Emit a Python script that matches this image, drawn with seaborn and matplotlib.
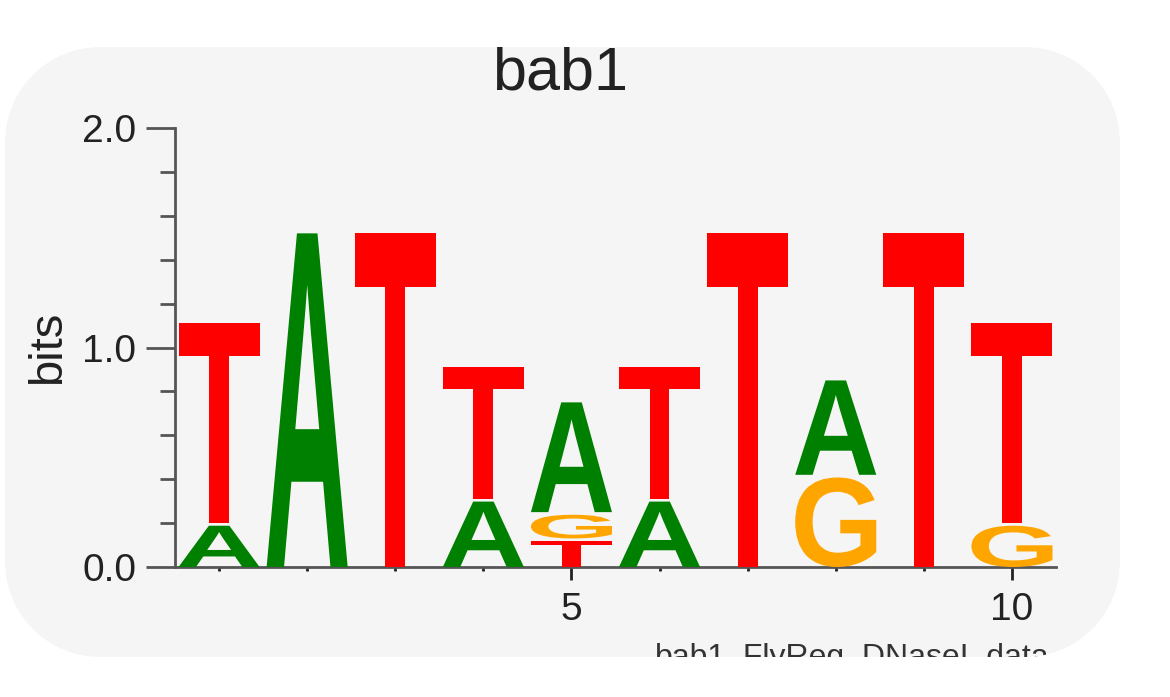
import numpy as np
import matplotlib
matplotlib.use("Agg")
import matplotlib.pyplot as plt
import seaborn as sns
from matplotlib.textpath import TextPath
from matplotlib.font_manager import FontProperties
from matplotlib.patches import PathPatch
from matplotlib.path import Path
from matplotlib.transforms import Affine2D
from matplotlib.ticker import MultipleLocator, FixedLocator

# ---------------- data ----------------
positions = [1, 2, 3, 4, 5, 6, 7, 8, 9, 10]
height_A = [0.20, 1.52, 0.00, 0.31, 0.50, 0.31, 0.00, 0.43, 0.00, 0.00]
height_C = [0.00, 0.00, 0.00, 0.00, 0.00, 0.00, 0.00, 0.00, 0.00, 0.00]
height_G = [0.00, 0.00, 0.00, 0.00, 0.12, 0.00, 0.00, 0.42, 0.00, 0.20]
height_T = [0.91, 0.00, 1.52, 0.60, 0.13, 0.60, 1.52, 0.00, 1.52, 0.91]
stack_order = ["AT", "A", "T", "AT", "TGA", "AT", "T", "GA", "T", "GT"]
title_text = "bab1"
ylabel_text = "bits"
footer_text = "bab1_FlyReg_DNaseI_data"
y_ticks = [0.0, 1.0, 2.0]
y_ticklabels = ["0.0", "1.0", "2.0"]
x_ticks = [5, 10]
x_ticklabels = ["5", "10"]

letter_colors = {"A": "#008000", "C": "#0000ff", "G": "#ffa500", "T": "#ff0000"}

# ---------------- style ----------------
sns.set_theme(style="ticks")
plt.rcParams["font.family"] = ["Liberation Sans", "DejaVu Sans"]

W, H = 1170, 697
fig = plt.figure(figsize=(W / 100, H / 100), dpi=100)
fig.patch.set_facecolor("white")

# rounded light-grey panel (built in pixels, placed in figure fraction)
def rounded_rect(x0, y0, x1, y1, r, n=30):
    pts = []
    corners = [(x1 - r, y1 - r, 0, 90), (x0 + r, y1 - r, 90, 180),
               (x0 + r, y0 + r, 180, 270), (x1 - r, y0 + r, 270, 360)]
    for cx, cy, a0, a1 in corners:
        t = np.radians(np.linspace(a0, a1, n))
        pts.extend(zip(cx + r * np.cos(t), cy + r * np.sin(t)))
    return np.array(pts)

box_px = rounded_rect(5, 40, 1120, 650, 95)
box = box_px / np.array([W, H])
panel = PathPatch(Path(np.vstack([box, box[:1]]), closed=True),
                  transform=fig.transFigure, facecolor="#f5f5f5",
                  edgecolor="none", zorder=-5)
fig.add_artist(panel)

ax = fig.add_axes([175 / W, 130 / H, 881 / W, 439 / H])
ax.set_facecolor("none")
ax.set_xlim(0.5, 10.5)
ax.set_ylim(0, 2.0)

# ---------------- letters ----------------
fp = FontProperties(family="Liberation Sans", weight="bold")
heights = {"A": height_A, "C": height_C, "G": height_G, "T": height_T}
glyph_cache = {}
letter_w = 0.92
gap = 0.012

for i, pos in enumerate(positions):
    bottom = 0.0
    order = stack_order[i]
    for k, letter in enumerate(order):
        h = heights[letter][i]
        if h <= 0:
            continue
        if letter not in glyph_cache:
            glyph_cache[letter] = TextPath((0, 0), letter, size=1, prop=fp)
        tp = glyph_cache[letter]
        ext = tp.get_extents()
        draw_h = h - (gap if k < len(order) - 1 else 0.0)
        tr = (Affine2D()
              .translate(-ext.x0, -ext.y0)
              .scale(letter_w / ext.width, draw_h / ext.height)
              .translate(pos - letter_w / 2, bottom))
        ax.add_patch(PathPatch(tr.transform_path(tp), facecolor=letter_colors[letter],
                               edgecolor="none", lw=0, zorder=3))
        bottom += h

# ---------------- axes ----------------
sns.despine(ax=ax, top=True, right=True)
spine_col = "#555555"
for s in ["left", "bottom"]:
    ax.spines[s].set_color(spine_col)
    ax.spines[s].set_linewidth(2.0)

ax.yaxis.set_major_locator(FixedLocator(y_ticks))
ax.set_yticklabels(y_ticklabels)
ax.yaxis.set_minor_locator(MultipleLocator(0.2))
ax.xaxis.set_major_locator(FixedLocator(x_ticks))
ax.set_xticklabels(x_ticklabels)
ax.xaxis.set_minor_locator(MultipleLocator(1))

ax.tick_params(axis="y", which="major", length=21, width=2, color=spine_col,
               labelsize=28, pad=7, labelcolor="#222222")
ax.tick_params(axis="y", which="minor", length=11, width=2, color=spine_col)
ax.tick_params(axis="x", which="major", length=9, width=2, color="#222222",
               labelsize=28, pad=9, labelcolor="#222222")
ax.tick_params(axis="x", which="minor", length=3, width=2, color="#222222")

ax.set_ylabel(ylabel_text, fontsize=34, color="#222222")
ax.yaxis.label.set_va("center")
ax.yaxis.set_label_coords((48 - 175) / 881, (567 - 347) / 439)
ax.set_xlabel("")

# ---------------- texts ----------------
fig.text(560 / W, 1 - 90 / H, title_text, ha="center", va="baseline",
         fontsize=44, color="#222222", zorder=4)
fig.text(655 / W, 1 - 666 / H, footer_text, ha="left", va="baseline",
         fontsize=23, color="#333333", zorder=4)

# white mask outside the rounded panel (clips title and footer)
outer = np.array([[0, 0], [1, 0], [1, 1], [0, 1], [0, 0]])
inner = np.vstack([box, box[:1]])[::-1]
verts = np.vstack([outer, inner])
codes = ([Path.MOVETO] + [Path.LINETO] * 3 + [Path.CLOSEPOLY] +
         [Path.MOVETO] + [Path.LINETO] * (len(inner) - 2) + [Path.CLOSEPOLY])
mask = PathPatch(Path(verts, codes), transform=fig.transFigure,
                 facecolor="white", edgecolor="none", zorder=10)
fig.add_artist(mask)

fig.savefig("out.png", dpi=100)
